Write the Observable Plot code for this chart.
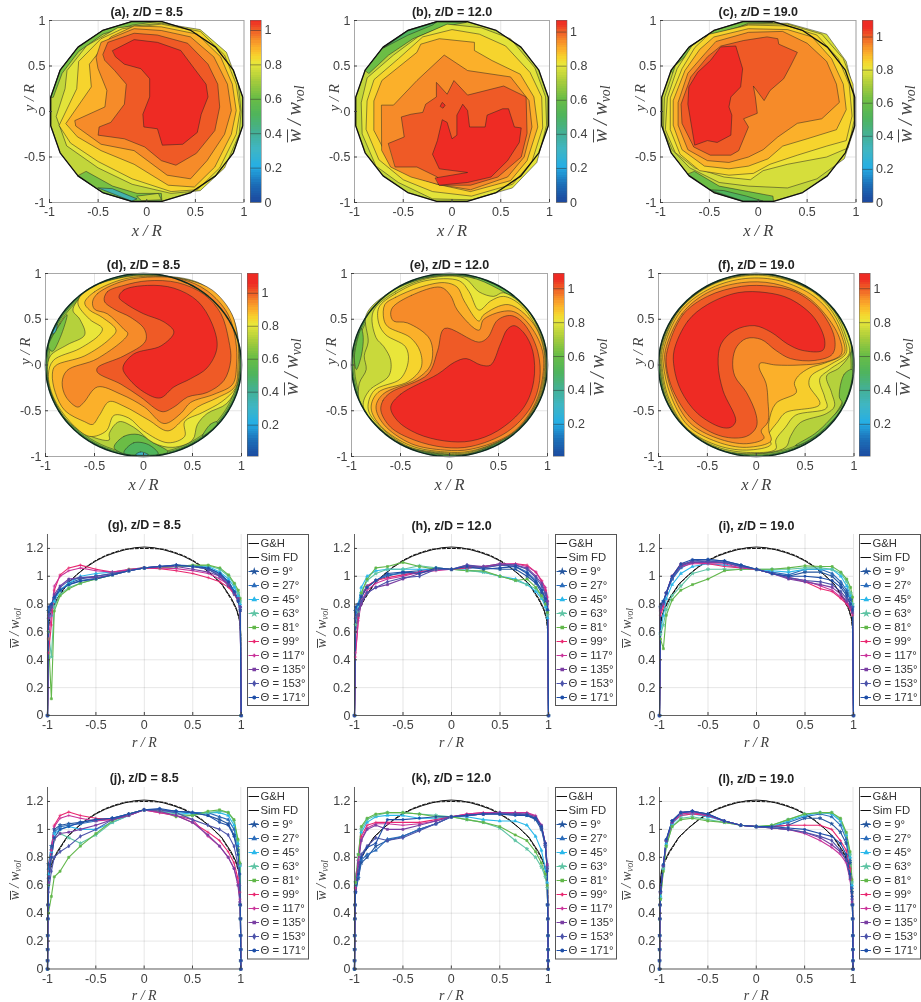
<!DOCTYPE html>
<html><head><meta charset="utf-8">
<script src="https://cdn.jsdelivr.net/npm/d3@7"></script>
<script src="https://cdn.jsdelivr.net/npm/@observablehq/plot@0.6"></script>
<style>
html,body{margin:0;padding:0;background:#fff}
#page{position:relative;width:921px;height:1002px;overflow:hidden;background:#fff;filter:blur(.35px)}
.wl{position:absolute;font-family:"Liberation Serif",serif;font-style:italic;color:#444;white-space:nowrap;line-height:1;transform:translate(-50%,-50%) rotate(-90deg)}
.wl .o{display:inline-block;border-top:1px solid currentColor;line-height:.6em}
.wl sub{font-size:.68em;vertical-align:-.25em;line-height:0}
</style></head><body><div id="page"></div>
<script>
const colorStops=[0,.1,.2,.3,.4,.5,.6,.7,.8,.84,.89,.94,.97,1,1.03,1.05];
const colorRange=["#1c4a9f","#1c6fb8","#25aee5","#3fb6c4","#44b094","#4fb45c","#6bbd45","#a8cc3c","#e9e63a","#f6d42d","#fbb02a","#f68b29","#f26e28","#ef5a26","#ee3a24","#ee2b24"];
const axisTicks=[-1,-.5,0,.5,1];
const barTicksFull=[0,.2,.4,.6,.8,1];
const barTicksNoZero=[.2,.4,.6,.8,1];
const profileTicks=[0,.2,.4,.6,.8,1,1.2];
const spokes=[9,27,45,63,81,99,117,135,153,171,189,207,225,243,261,279,297,315,333,351];

const contourA=[
[.62,[-.988,.156,-.891,.454,-.707,.707,-.454,.891,-.156,.988,.1,.988,-.15,.95,-.45,.85,-.7,.66,-.87,.42,-.96,.16]],
[.62,[-.71,-.71,-.454,-.891,-.156,-.988,.156,-.988,.15,-.9,-.1,-.9,-.35,-.82,-.62,-.66]],
[.35,[-.5,-.84,-.156,-.985,-.1,-.96,-.35,-.85]],
[.74,[-.1,-.93,.12,-.9,.15,-.97,-.05,-.98]],
[.79,[-.93,-.05,-.84,.25,-.82,.45,-.62,.72,-.3,.92,.15,.97,.55,.9,.82,.65,.94,.3,.97,0,.95,-.25,.8,-.62,.55,-.87,.25,-.9,-.15,-.8,-.5,-.62,-.82,-.38]],
[.84,[-.9,-.15,-.72,.25,-.7,.55,-.47,.8,-.25,.91,.15,.96,.55,.88,.8,.62,.92,.3,.96,.01,.92,-.25,.75,-.62,.52,-.86,.25,-.88,-.15,-.74,-.5,-.55,-.78,-.35]],
[.89,[-.83,-.13,-.57,.27,-.59,.52,-.37,.82,-.13,.94,.15,.93,.52,.85,.76,.6,.88,.3,.92,.01,.87,-.25,.7,-.61,.49,-.83,.22,-.81,-.13,-.58,-.47,-.43,-.71,-.28]],
[.94,[-.52,.6,-.47,.76,-.13,.91,.15,.89,.45,.82,.69,.6,.83,.3,.87,.01,.8,-.25,.62,-.54,.45,-.74,.21,-.7,-.13,-.43,-.47,-.36,-.73,-.16,-.74,-.1,-.43,.05,-.41,.23,-.5,.47]],
[1,[-.45,.63,-.4,.76,-.13,.86,.11,.84,.42,.75,.63,.52,.73,.3,.75,.05,.7,-.21,.51,-.46,.3,-.59,.15,-.54,-.02,-.39,-.23,-.3,-.5,-.26,-.49,-.17,-.37,-.12,-.23,.08,-.21,.3,-.33,.45,-.43,.56]],
[1.05,[-.35,.67,-.13,.79,.11,.76,.35,.67,.49,.47,.61,.3,.63,.16,.56,-.03,.52,-.23,.37,-.36,.16,-.37,.11,-.19,-.03,-.17,-.04,-.03,.03,.16,.03,.36,-.06,.47,-.23,.52,-.32,.6]]
];
const contourB=[
[.6,[-.891,.454,-.707,.707,-.454,.891,-.156,.988,.15,.98,-.1,.93,-.4,.8,-.65,.62,-.85,.42]],
[.5,[-.7,.7,-.454,.885,-.156,.985,-.2,.95,-.45,.84]],
[.79,[-.93,.1,-.87,.37,-.6,.62,-.35,.82,-.05,.96,.3,.92,.6,.8,.85,.48,.96,.16,.97,-.15,.87,-.56,.62,-.84,.2,-.97,-.2,-.96,-.55,-.78,-.78,-.6,-.92,-.25]],
[.84,[-.87,.12,-.8,.35,-.55,.58,-.3,.82,0,.9,.28,.85,.55,.72,.8,.43,.92,.16,.93,-.18,.82,-.55,.62,-.8,.2,-.93,-.2,-.88,-.5,-.75,-.75,-.53,-.88,-.2]],
[.89,[-.8,.12,-.72,.34,-.36,.65,-.32,.74,-.13,.8,.23,.76,.23,.67,.41,.56,.7,.41,.84,.16,.88,-.17,.77,-.54,.6,-.76,.19,-.88,-.15,-.8,-.46,-.69,-.66,-.5,-.8,-.21]],
[.94,[-.72,.07,-.6,.07,-.36,.34,-.08,.62,.16,.45,.6,.38,.79,.12,.82,-.17,.74,-.5,.57,-.72,.19,-.86,-.15,-.8,-.42,-.72,-.63,-.61,-.72,-.43]],
[1,[-.65,-.35,-.49,-.28,-.52,-.06,-.42,-.03,-.3,-.01,-.27,.08,-.16,.16,-.16,.32,-.05,.19,.02,.34,.16,.18,.53,.28,.76,.16,.77,-.24,.71,-.5,.47,-.72,.19,-.81,-.13,-.81,-.15,-.72,-.36,-.61,-.58,-.61]],
[1.05,[-.17,-.73,.16,-.67,-.13,-.63,-.2,-.47,-.15,-.32,-.1,-.09,-.05,-.12,0,-.3,.05,-.26,.05,-.04,.11,.08,.16,.01,.18,-.17,.34,-.17,.36,-.04,.52,.03,.58,.03,.64,-.17,.71,-.18,.69,-.34,.57,-.54,.4,-.72,.16,-.78,-.13,-.81]],
[1.05,[-.12,.06,-.1,.1,-.07,.07,-.09,.04]]
];
const contourC=[
[.62,[-.89,.45,-.71,.71,-.45,.89,-.16,.99,.15,.98,-.1,.95,-.45,.83,-.7,.65,-.87,.42]],
[.6,[-.72,-.69,-.45,-.89,-.156,-.988,.156,-.988,.15,-.93,-.1,-.88,-.4,-.82,-.65,-.66]],
[.5,[-.5,-.86,-.15,-.985,.05,-.985,-.12,-.93,-.35,-.87]],
[.77,[-.6,.75,-.1,.97,.3,.97,.7,.85,.9,.55,.98,.2,.98,-.2,.88,-.52,.6,-.74,.3,-.84,-.1,-.82,-.4,-.78,-.7,-.62,-.88,-.42,-.97,-.2,-.96,.15,-.85,.5]],
[.81,[-.55,.82,-.1,.96,.3,.96,.65,.85,.87,.58,.97,.3,.98,-.1,.92,-.4,.7,-.5,.3,-.58,.05,-.65,-.08,-.75,-.35,-.72,-.65,-.62,-.85,-.45,-.95,-.2,-.93,.15,-.83,.47,-.68,.72]],
[.84,[-.5,.85,-.1,.95,.3,.94,.6,.84,.82,.58,.93,.3,.96,-.05,.9,-.32,.7,-.38,.4,-.48,.12,-.58,-.05,-.68,-.3,-.7,-.6,-.65,-.8,-.47,-.9,-.2,-.9,.15,-.78,.47,-.65,.7]],
[.89,[-.45,.82,-.1,.91,.3,.9,.55,.82,.75,.58,.87,.3,.9,.02,.8,-.2,.5,-.3,.25,-.38,.1,-.52,-.1,-.6,-.3,-.63,-.55,-.6,-.78,-.42,-.87,-.15,-.87,.12,-.75,.45,-.6,.68]],
[.94,[-.43,.77,-.1,.87,.25,.88,.5,.75,.7,.55,.8,.3,.83,.1,.65,-.08,.4,-.13,.2,-.28,.05,-.42,-.1,-.5,-.3,-.56,-.52,-.54,-.72,-.42,-.82,-.15,-.82,.1,-.72,.42,-.55,.63]],
[1,[-.38,.72,-.15,.78,.09,.82,.2,.8,.21,.74,.4,.65,.33,.5,.26,.36,.12,.23,.06,.12,-.05,.28,-.03,.16,-.01,-.02,-.15,-.08,-.1,-.17,-.2,-.43,-.28,-.48,-.49,-.48,-.66,-.39,-.78,-.13,-.79,.08,-.69,.38,-.52,.6]],
[1.05,[-.38,.71,-.23,.72,-.16,.47,-.18,.27,-.28,.16,-.3,.05,-.27,-.04,-.28,-.26,-.42,-.34,-.52,-.32,-.65,-.37,-.72,.08,-.71,.27,-.62,.43,-.49,.56]]
];
const contourD=[
[.62,[-.97,.2,-.85,.45,-.78,.55,-.85,.3,-.93,.15]],
[.3,[-.93,.34,-.88,.45,-.9,.36]],
[.6,[-.3,-.9,-.2,-.78,-.05,-.76,.1,-.85,.25,-.95,0,-.99,-.2,-.97]],
[.5,[-.2,-.96,-.1,-.85,.05,-.87,.15,-.97,0,-.985]],
[.3,[-.08,-.98,-.03,-.95,.05,-.98]],
[.62,[.6,-.78,.68,-.65,.75,-.62,.75,-.65]],
[.8,[-.72,.6,-.6,.78,-.2,.96,.2,.975,.6,.88,.9,.55,.98,.1,.96,-.2,.85,-.42,.65,-.53,.55,-.65,.5,-.82,.3,-.9,.1,-.85,-.1,-.68,-.25,-.62,-.35,-.75,-.35,-.82,-.6,-.75,-.8,-.58,-.94,-.3,-.98,-.05,-.95,.1,-.78,.22,-.6,.33,-.65,.5]],
[.84,[-.67,.68,-.58,.82,-.2,.96,.2,.97,.6,.87,.85,.62,.97,.2,.97,-.1,.94,-.25,.8,-.4,.6,-.52,.42,-.62,.42,-.78,.25,-.85,0,-.72,-.15,-.58,-.3,-.55,-.38,-.72,-.55,-.78,-.75,-.62,-.92,-.35,-.97,-.1,-.92,.05,-.65,.18,-.45,.33,-.42,.4,-.55,.5]],
[.89,[-.6,.68,-.5,.8,-.2,.94,.1,.97,.45,.93,.7,.82,.9,.56,.965,.25,.965,0,.93,-.24,.75,-.36,.55,-.46,.4,-.6,.25,-.72,.05,-.6,-.2,-.45,-.35,-.4,-.45,-.55,-.52,-.65,-.6,-.62,-.8,-.5,-.9,-.3,-.93,-.1,-.9,-.01,-.6,.1,-.35,.28,-.28,.38,-.42,.52,-.55,.6]],
[.94,[-.52,.69,-.47,.78,-.23,.91,.04,.96,.38,.94,.65,.81,.86,.56,.94,.27,.95,.01,.91,-.21,.72,-.32,.48,-.41,.38,-.53,.21,-.64,.01,-.46,-.23,-.32,-.47,-.24,-.61,-.41,-.67,-.46,-.79,-.35,-.83,-.19,-.78,-.06,-.47,.07,-.16,.34,-.2,.39,-.37,.56,-.5,.61]],
[1,[-.4,.7,-.37,.8,-.2,.87,.04,.92,.35,.9,.62,.77,.79,.56,.87,.27,.89,.05,.82,-.17,.65,-.3,.45,-.35,.31,-.46,.19,-.51,-.03,-.35,-.23,-.21,-.47,-.08,-.47,-.03,-.2,.1,.02,.26,.01,.39,-.13,.52,-.3,.61]],
[1.05,[-.25,.74,-.2,.82,.04,.87,.31,.84,.55,.7,.7,.45,.75,.19,.65,-.03,.48,-.15,.31,-.24,.17,-.36,.01,-.3,-.15,-.15,-.21,-.03,-.1,.12,.18,.21,.31,.36,.21,.47,0,.56,-.18,.67]]
];
const contourE=[
[.6,[-.97,.1,-.9,.4,-.88,.3,-.9,.1,-.95,-.05]],
[.6,[.25,.96,.5,.86,.65,.76,.5,.8,.3,.88]],
[.75,[-.85,.55,-.6,.8,-.2,.96,.2,.96,.5,.83,.8,.6,.95,.3,.985,.1,.97,-.22,.88,-.46,.65,-.74,.22,-.965,-.05,-.975,-.45,-.89,-.75,-.65,-.92,-.38,-.92,-.2,-.85,-.05,-.87,.1,-.83,.25]],
[.8,[-.78,.58,-.55,.8,-.2,.95,.15,.95,.3,.8,.45,.75,.55,.79,.78,.62,.93,.33,.98,.1,.965,-.2,.88,-.46,.63,-.74,.22,-.96,-.05,-.97,-.45,-.88,-.72,-.68,-.88,-.45,-.82,-.28,-.62,-.12,-.6,.05,-.67,.2,-.75,.3]],
[.84,[-.72,.63,-.55,.78,-.25,.92,.1,.92,.2,.8,.3,.6,.42,.7,.55,.75,.72,.66,.9,.38,.975,.1,.96,-.2,.87,-.46,.62,-.74,.22,-.95,-.05,-.96,-.42,-.89,-.72,-.66,-.83,-.48,-.77,-.28,-.5,-.15,-.42,.05,-.45,.2,-.65,.33,-.72,.45]],
[.89,[-.66,.66,-.55,.74,-.3,.85,-.05,.9,.08,.85,.15,.7,.3,.48,.35,.55,.6,.66,.85,.46,.965,.15,.95,-.2,.86,-.47,.64,-.75,.22,-.94,-.05,-.95,-.4,-.88,-.7,-.67,-.8,-.47,-.73,-.3,-.42,-.18,-.29,-.03,-.3,.15,-.4,.3,-.63,.42,-.67,.5]],
[.94,[-.58,.63,-.39,.76,-.09,.85,.01,.76,.08,.6,.3,.38,.35,.5,.63,.59,.8,.46,.95,.15,.94,-.2,.85,-.47,.63,-.75,.22,-.92,-.05,-.93,-.39,-.86,-.67,-.65,-.75,-.46,-.68,-.32,-.33,-.15,-.19,.01,-.2,.28,-.43,.46,-.57,.48,-.6,.55]],
[1,[-.7,-.5,-.68,-.39,-.6,-.3,-.22,-.1,-.12,.16,-.05,.4,.3,.25,.39,.3,.49,.49,.63,.54,.76,.45,.9,.15,.92,-.17,.83,-.46,.59,-.73,.22,-.89,-.05,-.9,-.36,-.82,-.6,-.68]],
[1.05,[-.6,-.46,-.5,-.32,-.12,-.1,.05,.03,.17,.07,.32,0,.42,0,.52,.23,.59,.39,.66,.43,.76,.35,.85,.15,.86,-.17,.76,-.46,.49,-.72,.22,-.83,-.05,-.83,-.33,-.75,-.53,-.61]]
];
const contourF=[
[.62,[.98,-.05,.9,-.1,.85,-.35,.88,-.42,.75,-.6,.6,-.75,.4,-.88,.45,-.87,.65,-.74,.86,-.5,.96,-.25]],
[.77,[-.985,.16,-.83,.55,-.53,.84,-.15,.985,.2,.975,.62,.78,.82,.56,.95,.3,.97,.15,.85,-.03,.72,-.12,.77,-.3,.8,-.45,.72,-.53,.45,-.63,.35,-.78,.3,-.9,-.1,-.97,-.45,-.89,-.75,-.66,-.92,-.37,-.985,0]],
[.81,[-.975,.16,-.82,.55,-.52,.84,-.15,.975,.2,.97,.6,.78,.8,.58,.92,.3,.95,.12,.75,-.05,.65,-.15,.7,-.35,.72,-.47,.4,-.55,.3,-.68,.2,-.82,.2,-.92,-.1,-.955,-.44,-.88,-.74,-.66,-.91,-.36,-.975,0]],
[.85,[-.965,.16,-.8,.58,-.5,.85,-.15,.97,.2,.96,.58,.8,.78,.58,.9,.3,.92,.13,.75,0,.56,-.12,.54,-.22,.65,-.43,.3,-.52,.22,-.62,.12,-.78,.15,-.87,-.1,-.93,-.42,-.87,-.72,-.68,-.9,-.35,-.965,0]],
[.89,[-.95,.16,-.78,.58,-.5,.82,-.15,.94,.2,.93,.55,.78,.75,.58,.88,.3,.9,.13,.7,.02,.55,-.03,.43,-.12,.39,-.2,.41,-.3,.2,-.42,.13,-.62,.13,-.72,.15,-.83,-.1,-.9,-.4,-.84,-.7,-.66,-.88,-.32,-.95,0]],
[.94,[-.93,.16,-.76,.56,-.5,.79,-.15,.9,.18,.89,.5,.76,.7,.56,.85,.3,.87,.12,.7,.03,.45,0,.2,0,.04,.02,.03,-.03,.1,-.2,.12,-.4,.12,-.62,.05,-.72,.08,-.8,-.1,-.86,-.4,-.8,-.68,-.63,-.86,-.3,-.93,0]],
[1,[-.91,.16,-.75,.55,-.5,.75,-.15,.86,.15,.86,.4,.8,.65,.6,.8,.3,.78,.12,.6,.05,.35,.07,.2,.16,.05,.28,-.1,.29,-.2,.2,-.24,.05,-.22,-.12,-.1,-.3,0,-.55,0,-.68,-.1,-.78,-.35,-.78,-.65,-.6,-.85,-.28,-.92,0]],
[1.05,[-.84,.16,-.7,.48,-.5,.66,-.19,.79,.11,.79,.35,.72,.59,.52,.7,.27,.68,.16,.47,.16,.32,.23,.15,.36,-.02,.43,-.22,.38,-.36,.23,-.39,.01,-.34,-.28,-.21,-.61,-.26,-.68,-.36,-.68,-.6,-.53,-.77,-.28,-.84,-.03]]
];

const thetas=[9,27,45,63,81,99,117,135,153,171];
const seriesColors=["#24569f","#2c6dbb","#2bb8ea","#5fc4a4","#62b74a","#e9266f","#c9339a","#7a3fa3","#4c53aa","#1f4fa8"];
const seriesSymbols=["star","triangle","triangle","star","square","plus","plus","square","diamond","circle"];
const R=[-.99,-.96,-.93,-.87,-.78,-.66,-.5,-.33,-.16,0,.16,.33,.5,.66,.78,.87,.93,.97,.99];
const wallGap=[.0006,.0012,.002,.0035,.006];
const wallValue=[.06,.14,.24,.36,.46];
const ghR=[-1,-.995,-.98,-.95,-.9,-.8,-.7,-.6,-.5,-.4,-.3,-.2,-.1,0,.1,.2,.3,.4,.5,.6,.7,.8,.9,.95,.98,.995,1];
const ghV=[0,.6,.7,.77,.84,.945,1.01,1.065,1.11,1.145,1.17,1.19,1.205,1.21,1.205,1.19,1.17,1.145,1.11,1.065,1.01,.945,.84,.77,.7,.6,0];
const fdV=[0,.58,.69,.76,.83,.94,1.01,1.07,1.115,1.15,1.175,1.195,1.198,1.2,1.198,1.195,1.175,1.15,1.115,1.07,1.01,.94,.83,.76,.69,.58,0];

const profG=[
[.75,.79,.84,.9,.95,.98,1,1.02,1.04,1.06,1.07,1.075,1.07,1.05,1,.93,.87,.82,.76],
[.76,.8,.85,.9,.94,.97,.985,1.01,1.04,1.06,1.07,1.08,1.075,1.06,1.02,.96,.89,.83,.78],
[.7,.72,.82,.9,.95,1,1.02,1.03,1.045,1.06,1.065,1.07,1.075,1.07,1.03,.98,.92,.86,.8],
[.6,.42,.78,.87,.92,.95,.98,1.01,1.04,1.06,1.06,1.07,1.075,1.075,1.05,1,.94,.88,.82],
[.55,.12,.75,.86,.91,.95,.98,1.01,1.05,1.06,1.06,1.07,1.08,1.08,1.06,1.01,.95,.9,.84],
[.45,.65,.9,1.01,1.06,1.08,1.05,1.03,1.045,1.06,1.055,1.04,1.02,.99,.96,.92,.87,.82,.75],
[.55,.72,.93,1,1.04,1.06,1.04,1.03,1.05,1.06,1.06,1.055,1.04,1.02,.98,.94,.88,.84,.78],
[.7,.78,.87,.93,.98,.99,.99,1.01,1.04,1.06,1.07,1.07,1.05,1.03,1,.94,.88,.84,.78],
[.72,.78,.85,.92,.97,.99,1,1.02,1.04,1.06,1.07,1.08,1.07,1.05,1.01,.95,.88,.83,.78],
[.78,.8,.85,.9,.94,.965,.98,1.01,1.04,1.06,1.07,1.08,1.07,1.06,1.02,.96,.89,.82,.75]];
const profH=[
[.75,.8,.86,.92,.97,1,1.03,1.04,1.06,1.05,1.06,1.06,1.05,1.05,1,.95,.88,.82,.75],
[.76,.8,.87,.93,.97,1.01,1.02,1.03,1.05,1.05,1.06,1.07,1.08,1.07,1.03,.97,.9,.83,.76],
[.7,.8,.92,1,1.04,1.05,1.05,1.05,1.05,1.05,1.045,1.03,1,.98,.94,.89,.84,.78,.7],
[.65,.75,.88,.97,1.02,1.05,1.05,1.075,1.06,1.05,1.04,1.03,1,.97,.94,.91,.85,.8,.72],
[.6,.72,.88,.98,1.06,1.07,1.1,1.07,1.05,1.05,1.04,1.04,1,.97,.98,.92,.86,.8,.74],
[.42,.7,.85,.93,.97,.99,1.01,1.03,1.05,1.05,1.06,1.07,1.08,1.09,1.08,1.03,.97,.9,.82],
[.45,.68,.82,.9,.95,.98,1,1.03,1.04,1.05,1.07,1.07,1.09,1.09,1.07,1.03,.96,.92,.85],
[.6,.72,.8,.88,.92,.94,.98,1.02,1.05,1.05,1.08,1.07,1.09,1.08,1.06,1,.95,.88,.82],
[.7,.76,.82,.88,.92,.96,.99,1,1.05,1.05,1.08,1.06,1.08,1.08,1.05,.99,.93,.87,.8],
[.78,.8,.85,.92,.97,1.02,1.03,1.02,1.06,1.05,1.07,1.05,1.06,1.07,1.02,.96,.9,.84,.76]];
const profI=[
[.78,.82,.88,.98,1.07,1.11,1.12,1.11,1.08,1.05,1.02,1,1.03,1.03,1,.94,.88,.83,.78],
[.78,.82,.88,.98,1.06,1.1,1.11,1.1,1.07,1.05,1.03,1.01,1.05,1.05,1.02,.96,.9,.84,.78],
[.6,.72,.84,.94,1.02,1.07,1.09,1.08,1.06,1.05,1.04,1.03,1.05,1.05,1.05,1,.93,.86,.8],
[.58,.65,.76,.86,.93,1.02,1.05,1.05,1.05,1.05,1.05,1.05,1.06,1.06,1.05,1.02,.96,.88,.8],
[.55,.48,.72,.83,.9,.94,.98,1.04,1.05,1.05,1.05,1.06,1.075,1.07,1.07,1.03,.98,.92,.85],
[.72,.78,.88,1,1.09,1.1,1.09,1.07,1.06,1.05,1.02,.99,.96,.91,.89,.84,.8,.76,.72],
[.75,.8,.88,1,1.07,1.09,1.09,1.09,1.06,1.05,1.02,.99,.97,.93,.9,.85,.81,.77,.73],
[.76,.8,.88,1,1.08,1.1,1.1,1.1,1.07,1.05,1.02,.98,.96,.94,.92,.87,.82,.78,.74],
[.78,.81,.88,.99,1.08,1.11,1.11,1.1,1.07,1.05,1.02,.99,.97,.96,.94,.89,.84,.8,.75],
[.8,.82,.88,1,1.09,1.12,1.12,1.11,1.08,1.05,1.02,1,1,.99,.97,.92,.86,.8,.76]];
const profJ=[
[.75,.88,1,1.03,1.04,1.05,1.07,1.08,1.11,1.14,1.14,1.13,1.12,1.1,1.07,1.04,.96,.85,.75],
[.72,.86,.98,1.02,1.03,1.04,1.06,1.08,1.11,1.14,1.14,1.13,1.12,1.12,1.09,1.07,1,.88,.75],
[.68,.84,.97,1,1.02,1,1,1.05,1.1,1.14,1.13,1.12,1.11,1.12,1.12,1.1,1.03,.9,.74],
[.6,.8,.93,.97,.94,.9,.96,1.05,1.1,1.14,1.13,1.11,1.1,1.12,1.13,1.12,1.06,.92,.75],
[.4,.52,.66,.7,.8,.88,.97,1.06,1.11,1.14,1.13,1.09,1.1,1.13,1.14,1.12,1.07,.93,.76],
[.65,.85,1.03,1.1,1.125,1.1,1.08,1.07,1.1,1.14,1.12,1.1,1.05,.98,.92,.84,.76,.65,.55],
[.65,.85,1.02,1.08,1.1,1.08,1.06,1.07,1.1,1.14,1.12,1.1,1.07,.95,.88,.8,.72,.62,.5],
[.62,.8,.93,.97,.98,1,1.03,1.07,1.1,1.14,1.13,1.1,1.05,.96,.88,.8,.72,.6,.48],
[.55,.7,.8,.84,.88,.95,1,1.07,1.11,1.14,1.14,1.12,1.07,1.03,1,.96,.88,.75,.6],
[.65,.8,.94,1,1.02,1.05,1.07,1.08,1.11,1.14,1.15,1.13,1.12,1.1,1.05,1.03,.95,.82,.68]];
const profK=[
[.55,.65,.76,.8,.88,.92,.95,1,1.04,1.09,1.1,1.11,1.11,1.11,1.1,1.07,1,.88,.72],
[.55,.66,.78,.82,.85,.93,.95,1,1.04,1.09,1.1,1.11,1.12,1.12,1.1,1.08,1.02,.9,.74],
[.6,.78,.98,1.05,1.09,1.1,1.1,1.08,1.08,1.09,1.09,1.07,1.06,1.06,1.03,.95,.85,.72,.62],
[.62,.82,1,1.07,1.1,1.12,1.12,1.11,1.1,1.09,1.07,1.05,1.01,.92,.86,.8,.73,.66,.58],
[.62,.82,1.02,1.08,1.11,1.12,1.12,1.11,1.09,1.09,1.07,1.05,1.02,.96,.92,.84,.76,.68,.6],
[.58,.78,.95,1.03,1.05,1.05,1.05,1.05,1.07,1.09,1.11,1.12,1.12,1.12,1.12,1.09,1.02,.9,.72],
[.58,.78,.93,1.01,1.04,1.04,1.03,1.04,1.06,1.09,1.11,1.12,1.12,1.12,1.12,1.1,1.03,.9,.74],
[.56,.76,.92,1,1.03,1,1,1.03,1.06,1.09,1.1,1.11,1.12,1.11,1.11,1.09,1.03,.9,.75],
[.55,.7,.82,.88,.94,.92,.94,.99,1.04,1.09,1.1,1.11,1.11,1.11,1.11,1.08,1.02,.88,.72],
[.55,.68,.8,.87,.9,1.07,1.07,1.08,1.09,1.09,1.1,1.11,1.11,1.1,1.1,1.08,1.02,.9,.7]];
const profL=[
[.55,.74,.92,1.06,1.12,1.13,1.11,1.06,1.03,1.02,1.02,1.03,1.08,1.08,1.04,.98,.9,.76,.55],
[.55,.74,.92,1.05,1.11,1.12,1.1,1.06,1.03,1.02,1.02,1.05,1.09,1.11,1.09,1.03,.93,.78,.58],
[.52,.72,.9,1.04,1.1,1.11,1.09,1.06,1.03,1.02,1.02,1.06,1.1,1.12,1.11,1.06,.96,.8,.6],
[.5,.72,.88,1.02,1.08,1.09,1.07,1.05,1.03,1.02,1.03,1.07,1.11,1.12,1.12,1.07,.97,.82,.62],
[.5,.7,.88,1.02,1.07,1.08,1.06,1.05,1.03,1.02,1.03,1.07,1.11,1.12,1.12,1.08,.98,.84,.64],
[.55,.74,.92,1.05,1.1,1.11,1.1,1.06,1.03,1.02,1.02,1.03,1.03,1.03,1,.92,.85,.72,.52],
[.55,.74,.92,1.05,1.11,1.12,1.1,1.06,1.03,1.02,1.01,1,.97,.92,.87,.82,.76,.64,.48],
[.55,.74,.92,1.05,1.12,1.13,1.1,1.06,1.03,1.02,1.01,1,.98,.94,.89,.84,.78,.65,.5],
[.55,.74,.92,1.06,1.12,1.13,1.11,1.06,1.03,1.02,1.01,1,.98,.95,.92,.85,.78,.66,.5],
[.56,.75,.93,1.06,1.12,1.13,1.11,1.06,1.03,1.02,1.02,1.01,1,.97,.95,.9,.82,.68,.52]];

const contourPanels=[
{t:"(a), z/D = 8.5",x:48.5,y:20,w:194.5,h:182,c:contourA,bx:250,bw:11,lo:0,hi:1.058,ticks:barTicksFull,smooth:false},
{t:"(b), z/D = 12.0",x:354,y:20,w:195,h:182,c:contourB,bx:556,bw:10.5,lo:0,hi:1.068,ticks:barTicksFull,smooth:false},
{t:"(c), z/D = 19.0",x:660,y:20,w:195.5,h:182,c:contourC,bx:861.5,bw:10.5,lo:0,hi:1.1,ticks:barTicksFull,smooth:false},
{t:"(d), z/D = 8.5",x:44.7,y:272.7,w:196,h:183,c:contourD,bx:247,bw:11,lo:.01,hi:1.12,ticks:barTicksNoZero,smooth:true},
{t:"(e), z/D = 12.0",x:350.7,y:272.7,w:196,h:183,c:contourE,bx:553,bw:11,lo:.01,hi:1.09,ticks:barTicksNoZero,smooth:true},
{t:"(f), z/D = 19.0",x:657.7,y:272.7,w:195.5,h:183,c:contourF,bx:859,bw:11,lo:.01,hi:1.09,ticks:barTicksNoZero,smooth:true}
];
const profilePanels=[
{t:"(g), z/D = 8.5",x:47,y:534,w:193.7,h:181,d:profG,lx:247,lh:171,wall:false},
{t:"(h), z/D = 12.0",x:354,y:534,w:194,h:181,d:profH,lx:554.5,lh:171,wall:false},
{t:"(i), z/D = 19.0",x:658.7,y:534,w:194,h:181,d:profI,lx:859.3,lh:171,wall:false},
{t:"(j), z/D = 8.5",x:46.7,y:786.7,w:193.3,h:181.5,d:profJ,lx:246.7,lh:171.5,wall:true},
{t:"(k), z/D = 12.0",x:354,y:786.7,w:193.7,h:181.5,d:profK,lx:554.7,lh:171.5,wall:true},
{t:"(l), z/D = 19.0",x:658.7,y:786.7,w:193.5,h:181.5,d:profL,lx:859,lh:171.5,wall:true}
];

const page=document.getElementById("page");
const SANS='"Liberation Sans",Arial,sans-serif', SERIF='"Liberation Serif",serif', INK="#404040";
const colorScale={type:"linear",domain:colorStops,range:colorRange,clamp:true};
function place(svg,left,top){svg.style.position="absolute";svg.style.left=left+"px";svg.style.top=top+"px";svg.style.background="transparent";svg.style.maxWidth="none";svg.style.overflow="visible";page.appendChild(svg);}
function wLabel(cx,cy,size,color){const d=document.createElement("div");d.className="wl";d.style.left=cx+"px";d.style.top=cy+"px";d.style.fontSize=size+"px";if(color)d.style.color=color;d.innerHTML='<span class="o">w</span>\u2009/\u2009w<sub>vol</sub>';page.appendChild(d);}
function frameMargins(p,ml,mb){return {width:p.w+ml+2,height:p.h+22+mb,marginLeft:ml,marginRight:2,marginTop:22,marginBottom:mb};}
function axes(xt,yt){return [
 Plot.axisX(xt,{anchor:"bottom",tickSize:-3,tickPadding:8,tickFormat:d=>String(d),label:null,fontSize:12.5,stroke:INK,fill:INK}),
 Plot.axisY(yt,{anchor:"left",tickSize:-3,tickPadding:7,tickFormat:d=>String(d),label:null,fontSize:12.5,stroke:INK,fill:INK})];}
function titleMark(t,dy){return Plot.text([t],{frameAnchor:"top",dy,lineAnchor:"middle",fontWeight:"bold",fontSize:12.5,fill:"#222",fontFamily:SANS});}

for(const p of contourPanels){
 const ml=34,mb=36;
 const n=p.smooth?96:20;
 const outline=p.smooth?d3.range(n).map(i=>i*360/n):spokes;
 const circle=(r,lvl,id)=>outline.map(a=>({x:r*Math.cos(a*Math.PI/180),y:r*Math.sin(a*Math.PI/180),v:lvl,id}));
 const base=p.smooth?[...circle(1,.55,"r0"),...circle(.985,.66,"r1"),...circle(.97,.72,"r2")]:circle(1,.74,"r0");
 const rows=p.c.flatMap((poly,k)=>{const out=[];for(let i=0;i<poly[1].length;i+=2)out.push({x:poly[1][i],y:poly[1][i+1],v:poly[0],id:"p"+k});return out;});
 const curve=p.smooth?"catmull-rom-closed":"linear-closed";
 const svg=Plot.plot({...frameMargins(p,ml,mb),style:{fontFamily:SANS,fontSize:"13px",color:INK},
  x:{domain:[-1,1]},y:{domain:[-1,1]},color:colorScale,
  marks:[
   Plot.gridX(axisTicks,{stroke:"#000",strokeOpacity:.1}),
   Plot.gridY(axisTicks,{stroke:"#000",strokeOpacity:.1}),
   Plot.line(base,{x:"x",y:"y",z:"id",fill:"v",stroke:"#1a1a1a",strokeWidth:.4,curve:"linear-closed"}),
   Plot.line(rows,{x:"x",y:"y",z:"id",fill:"v",stroke:"#222",strokeWidth:.5,curve}),
   Plot.line(circle(1,0,"b"),{x:"x",y:"y",z:"id",stroke:p.smooth?"#0f2a20":"#111",strokeWidth:p.smooth?1.5:1.3,curve:"linear-closed"}),
   Plot.frame({stroke:"#999",strokeWidth:.8}),
   ...axes(axisTicks,axisTicks),
   titleMark(p.t,-9),
   Plot.text(["x / R"],{frameAnchor:"bottom",dy:28,lineAnchor:"middle",fontStyle:"italic",fontFamily:SERIF,fontSize:16.5,fill:INK}),
   Plot.text(["y / R"],{frameAnchor:"left",dx:-20,rotate:-90,fontStyle:"italic",fontFamily:SERIF,fontSize:15,fill:INK})
  ]});
 place(svg,p.x-ml,p.y-22);
 const step=(p.hi-p.lo)/80, cells=d3.range(80).map(i=>p.lo+i*step);
 const bar=Plot.plot({width:p.bw+30,height:p.h,marginLeft:0,marginRight:30,marginTop:0,marginBottom:0,style:{fontFamily:SANS,fontSize:"13px",color:INK},
  x:{domain:[0,1],axis:null},y:{domain:[p.lo,p.hi]},color:colorScale,
  marks:[
   Plot.rect(cells,{x1:0,x2:1,y1:d=>d,y2:d=>d+step*1.05,fill:d=>d,shapeRendering:"crispEdges"}),
   Plot.axisY(p.ticks,{anchor:"right",tickSize:0,tickPadding:3,tickFormat:d=>String(d),label:null,fontSize:12.5,fill:INK}),
   Plot.tickY(p.ticks,{y:d=>d,x1:.72,x2:1,stroke:"#333",strokeWidth:.5}),
   Plot.frame({stroke:"#666",strokeWidth:.5})
  ]});
 place(bar,p.bx,p.y);
 wLabel(p.bx+p.bw+33,p.y+p.h/2+3,20);
}

const labels=thetas.map(t=>`Θ = ${t}°`);
for(const p of profilePanels){
 const ml=36,mb=36;
 const rows=p.d.flatMap((vals,k)=>{
  const s=labels[k];
  const left=p.wall?wallGap.map((g,i)=>({r:-1+g,v:wallValue[i],s})):[];
  const right=p.wall?wallGap.map((g,i)=>({r:1-g,v:wallValue[i],s})).reverse():[];
  return [{r:-1,v:0,s},...left,...R.map((r,i)=>({r,v:vals[i],s})),...right,{r:1,v:0,s}];
 });
 const svg=Plot.plot({...frameMargins(p,ml,mb),style:{fontFamily:SANS,fontSize:"13px",color:INK},
  x:{domain:[-1,1]},y:{domain:[0,1.3]},
  color:{domain:labels,range:seriesColors},symbol:{domain:labels,range:seriesSymbols},
  marks:[
   Plot.gridX(axisTicks,{stroke:"#000",strokeOpacity:.1}),
   Plot.gridY(profileTicks,{stroke:"#000",strokeOpacity:.1}),
   Plot.line(ghR.map((r,i)=>({r,v:ghV[i]})),{x:"r",y:"v",stroke:"#111",strokeWidth:1}),
   Plot.line(ghR.map((r,i)=>({r,v:fdV[i]})),{x:"r",y:"v",stroke:"#111",strokeWidth:1,strokeDasharray:"3,2"}),
   Plot.line(rows,{x:"r",y:"v",z:"s",stroke:"s",strokeWidth:1.1}),
   Plot.dot(rows,{x:"r",y:"v",stroke:"s",fill:"s",symbol:"s",r:1.15,strokeWidth:.6}),
   Plot.ruleX([-1],{stroke:INK,strokeWidth:.8}),
   Plot.ruleY([0],{stroke:INK,strokeWidth:.8}),
   ...axes(axisTicks,profileTicks),
   titleMark(p.t,-9),
   Plot.text(["r / R"],{frameAnchor:"bottom",dy:27,lineAnchor:"middle",fontStyle:"italic",fontFamily:SERIF,fontSize:14,fill:INK})
  ]});
 place(svg,p.x-ml,p.y-22);
 wLabel(p.x-32,p.y+p.h/2+3,14);
 const entries=[{k:"G&H",c:"#111",d:null,m:null},{k:"Sim FD",c:"#111",d:"3,2",m:null},...labels.map((k,i)=>({k,c:seriesColors[i],d:null,m:seriesSymbols[i]}))];
 const legendX=[1.5,12,13];
 const legend=Plot.plot({width:61,height:p.lh,margin:0,style:{fontFamily:SANS,fontSize:"11px",color:"#333"},
  x:{domain:[0,61],axis:null},y:{type:"band",domain:entries.map(e=>e.k),padding:0,axis:null},
  symbol:{domain:labels,range:seriesSymbols},
  marks:[
   Plot.frame({stroke:"#555",strokeWidth:1}),
   Plot.ruleY(entries,{y:"k",x1:legendX[0],x2:legendX[1],stroke:"c",strokeDasharray:d=>d.d,strokeWidth:1}),
   Plot.dot(entries.filter(e=>e.m),{x:(legendX[0]+legendX[1])/2,y:"k",symbol:"k",r:1.2,fill:"c",stroke:"c"}),
   Plot.text(entries,{x:legendX[2],y:"k",text:"k",textAnchor:"start",fill:"#333",fontSize:11.3,fontFamily:SANS})
  ]});
 place(legend,p.lx,p.y);
}
</script></body></html>
